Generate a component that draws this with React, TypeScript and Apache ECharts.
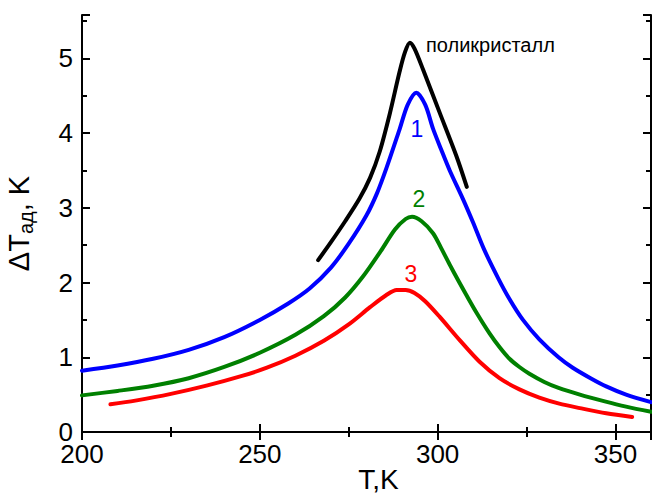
import React, { useEffect, useRef } from "react";
import * as echarts from "echarts";

const blueData: [number, number][] = [
  [200, 0.82], [210, 0.89], [220, 0.98], [230, 1.1], [240, 1.27], [250, 1.5], [258, 1.72], [264, 1.92],
  [270, 2.2], [275, 2.52], [280, 2.9], [283, 3.2], [285.6, 3.53], [289.3, 4.05], [291.6, 4.38], [294, 4.54],
  [296.5, 4.38], [298.7, 4.06], [301, 3.78], [303.4, 3.5], [307.1, 3.12], [310, 2.8], [313, 2.45], [317, 2.06],
  [320.2, 1.78], [324, 1.5], [328.6, 1.24], [334, 1.0], [338, 0.86], [343, 0.72], [347.4, 0.61], [353, 0.5], [360, 0.4],
];
const greenData: [number, number][] = [
  [200, 0.49], [210, 0.55], [220, 0.62], [230, 0.72], [240, 0.87], [250, 1.06], [260, 1.3], [268, 1.55],
  [274, 1.8], [279, 2.08], [284, 2.42], [288, 2.71], [291, 2.85], [292.8, 2.88], [295.5, 2.82], [298.7, 2.66],
  [301, 2.46], [303.4, 2.24], [306, 2.01], [308, 1.84], [310.9, 1.6], [314.6, 1.32], [317.5, 1.13],
  [320.2, 0.98], [323, 0.87], [325.8, 0.78], [330, 0.67], [334, 0.59], [340, 0.5], [347, 0.41], [353, 0.34], [360, 0.27],
];
const redData: [number, number][] = [
  [208, 0.37], [215, 0.42], [225, 0.51], [235, 0.62], [245, 0.75], [252, 0.86], [260, 1.02], [268, 1.22],
  [275, 1.44], [281, 1.67], [285.5, 1.83], [288.5, 1.9], [291, 1.9], [293.5, 1.86], [296.5, 1.75],
  [300.6, 1.54], [306.2, 1.23], [311.8, 0.94], [317.4, 0.72], [323, 0.57], [328.6, 0.46], [334.2, 0.38],
  [340, 0.32], [347.4, 0.25], [354.7, 0.2],
];
const polyData: [number, number][] = [
  [266.4, 2.3], [270, 2.54], [274, 2.82], [278, 3.12], [281, 3.4], [283.7, 3.75], [286.5, 4.25],
  [289.3, 4.82], [290.8, 5.08], [292.2, 5.21], [293.5, 5.13], [295.9, 4.85], [300.6, 4.27], [305.3, 3.69],
  [308.2, 3.28],
];

const xTitle = "T,K";
const polyLabel = "поликристалл";

const FONT = "'Liberation Sans', Arial, sans-serif";

export default function App() {
  const ref = useRef<HTMLDivElement>(null);
  useEffect(() => {
    if (!ref.current) return;
    const chart = echarts.init(ref.current, undefined, { renderer: "svg" });
    const axisLine = { show: true, lineStyle: { color: "#000", width: 2 } };
    const tick = { show: true, inside: true, length: 8, lineStyle: { color: "#000", width: 2 } };
    const minor = { show: true, splitNumber: 2, length: 5, lineStyle: { color: "#000", width: 2 } };
    const line = (data: [number, number][], color: string, smooth: number | boolean) => ({
      type: "line",
      data,
      smooth,
      showSymbol: false,
      symbol: "none",
      lineStyle: { color, width: 4, cap: "round", join: "round" },
      z: 3,
    });
    chart.setOption({
      animation: false,
      grid: { left: 82, right: 1, top: 15, bottom: 65, containLabel: false, outerBoundsMode: "none" },
      xAxis: [
        {
          type: "value", min: 200, max: 360, interval: 50,
          axisLine, axisTick: tick, minorTick: minor, splitLine: { show: false },
          axisLabel: { color: "#000", fontSize: 26, fontFamily: FONT, margin: 9, showMaxLabel: false },
          name: xTitle, nameLocation: "middle", nameGap: 33, nameMoveOverlap: false,
          nameTextStyle: { color: "#000", fontSize: 28, fontFamily: FONT, padding: [0, 0, 0, 24] },
        },
        {
          type: "value", position: "top", min: 200, max: 360, interval: 50,
          axisLine, axisTick: tick, minorTick: minor, splitLine: { show: false },
          axisLabel: { show: false },
        },
      ],
      yAxis: [
        {
          type: "value", min: 0, max: 5.58, interval: 1,
          axisLine, axisTick: tick, minorTick: minor, splitLine: { show: false },
          axisLabel: { color: "#000", fontSize: 26, fontFamily: FONT, margin: 9, showMaxLabel: false },
          name: "{a|ΔT}{b|ад}{a|, K}", nameLocation: "middle", nameRotate: 90, nameGap: 44, nameMoveOverlap: false,
          nameTextStyle: {
            color: "#000", fontFamily: FONT,
            rich: {
              a: { fontSize: 29, fontFamily: FONT, color: "#000", lineHeight: 34, verticalAlign: "top" },
              b: { fontSize: 20, fontFamily: FONT, color: "#000", lineHeight: 34, verticalAlign: "top", padding: [12, 0, 0, 0] },
            },
          },
        },
        {
          type: "value", position: "right", min: 0, max: 5.58, interval: 1,
          axisLine, axisTick: tick, minorTick: minor, splitLine: { show: false },
          axisLabel: { show: false },
        },
      ],
      series: [
        line(blueData, "#0000ff", 0.3),
        line(greenData, "#008000", 0.3),
        line(redData, "#ff0000", 0.3),
        line(polyData, "#000000", 0.3),
      ],
      graphic: [
        { type: "text", x: 426, y: 45, style: { text: polyLabel, fontSize: 20, fontFamily: FONT, fill: "#000", verticalAlign: "middle" } },
        { type: "text", x: 417, y: 129, style: { text: "1", fontSize: 23, fontFamily: FONT, fill: "#0000ff", align: "center", verticalAlign: "middle" } },
        { type: "text", x: 419, y: 199, style: { text: "2", fontSize: 23, fontFamily: FONT, fill: "#008000", align: "center", verticalAlign: "middle" } },
        { type: "text", x: 411, y: 274, style: { text: "3", fontSize: 23, fontFamily: FONT, fill: "#ff0000", align: "center", verticalAlign: "middle" } },
      ],
    });
    return () => chart.dispose();
  }, []);
  return <div ref={ref} style={{ position: "fixed", left: 0, top: 0, width: 652, height: 497, background: "#fff" }} />;
}
